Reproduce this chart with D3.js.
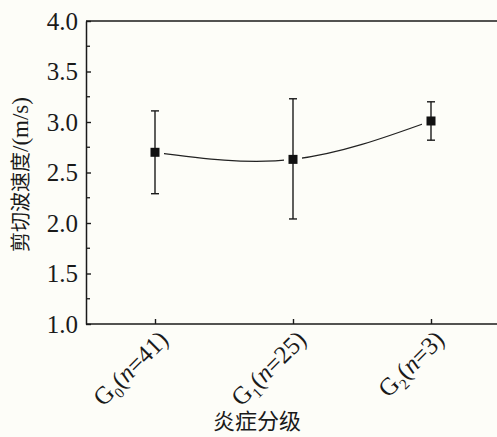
<!DOCTYPE html>
<html><head><meta charset="utf-8"><script src="https://cdn.jsdelivr.net/npm/d3@7"></script></head>
<body style="margin:0">
<script>
// chart data
var groups = ["G0", "G1", "G2"];
var subs = ["0", "1", "2"];
var counts = [41, 25, 3];
var means = [2.70, 2.63, 3.01];
var upper = [3.11, 3.23, 3.20];
var lower = [2.29, 2.04, 2.82];
var yTicks = [1.0, 1.5, 2.0, 2.5, 3.0, 3.5, 4.0];
var yMinor = [1.25, 1.75, 2.25, 2.75, 3.25, 3.75];

var width = 497, height = 437;
var bg = "#fdfdf8";
var serifFont = "'Liberation Serif'";
var cjkFont = "'Noto Sans CJK SC'";

var svg = d3.select("body").append("svg")
    .attr("width", width)
    .attr("height", height)
    .style("display", "block");

svg.append("rect")
    .attr("width", width)
    .attr("height", height)
    .attr("fill", bg);

var plotLeft = 86, plotTop = 21, plotBottom = 324;

var x = d3.scalePoint()
    .domain(groups)
    .range([plotLeft, 500])
    .padding(0.5);

var y = d3.scaleLinear()
    .domain([1, 4])
    .range([plotBottom, plotTop]);

var points = groups.map(function(g, i) {
    return {g: g, i: i, m: means[i], hi: upper[i], lo: lower[i]};
});

// smooth line through means
var line = d3.line()
    .x(function(d) { return x(d.g); })
    .y(function(d) { return y(d.m); })
    .curve(d3.curveNatural);

svg.append("path")
    .datum(points)
    .attr("d", line)
    .attr("fill", "none")
    .attr("stroke", "#222")
    .attr("stroke-width", 1.3);

// gaps around markers
svg.selectAll(".gap")
    .data(points)
    .enter().append("rect")
    .attr("x", function(d) { return x(d.g) - 9; })
    .attr("y", function(d) { return y(d.m) - 9; })
    .attr("width", 18)
    .attr("height", 18)
    .attr("fill", bg);

// error bars
var eb = svg.selectAll(".err")
    .data(points)
    .enter().append("g")
    .attr("stroke", "#1a1a1a")
    .attr("stroke-width", 1.4);
eb.append("line")
    .attr("x1", function(d) { return x(d.g); })
    .attr("x2", function(d) { return x(d.g); })
    .attr("y1", function(d) { return y(d.hi); })
    .attr("y2", function(d) { return y(d.lo); });
eb.append("line")
    .attr("x1", function(d) { return x(d.g) - 4; })
    .attr("x2", function(d) { return x(d.g) + 4; })
    .attr("y1", function(d) { return y(d.hi); })
    .attr("y2", function(d) { return y(d.hi); });
eb.append("line")
    .attr("x1", function(d) { return x(d.g) - 4; })
    .attr("x2", function(d) { return x(d.g) + 4; })
    .attr("y1", function(d) { return y(d.lo); })
    .attr("y2", function(d) { return y(d.lo); });

// markers
svg.selectAll(".marker")
    .data(points)
    .enter().append("rect")
    .attr("x", function(d) { return x(d.g) - 4.5; })
    .attr("y", function(d) { return y(d.m) - 4.5; })
    .attr("width", 9)
    .attr("height", 9)
    .attr("fill", "#111");

// frame: left axis, bottom axis, top border
var axisColor = "#1a1a1a";
svg.append("line")
    .attr("x1", plotLeft).attr("x2", width)
    .attr("y1", plotTop).attr("y2", plotTop)
    .attr("stroke", axisColor).attr("stroke-width", 1.5);

var yAxis = d3.axisLeft(y)
    .tickValues(yTicks)
    .tickSizeInner(-5)
    .tickSizeOuter(0)
    .tickPadding(8)
    .tickFormat(d3.format(".1f"));
var gy = svg.append("g")
    .attr("transform", "translate(" + plotLeft + ",0)")
    .call(yAxis);
gy.select(".domain").attr("stroke", axisColor).attr("stroke-width", 1.5);
gy.selectAll(".tick line").attr("stroke", axisColor).attr("stroke-width", 1.4);
gy.selectAll(".tick text")
    .style("font-family", serifFont)
    .style("font-size", "25px")
    .attr("fill", "#1a1a1a");

gy.selectAll(".minor")
    .data(yMinor)
    .enter().append("line")
    .attr("x1", 0).attr("x2", 4)
    .attr("y1", function(d) { return y(d); })
    .attr("y2", function(d) { return y(d); })
    .attr("stroke", axisColor).attr("stroke-width", 1.3);

var xAxis = d3.axisBottom(x)
    .tickSizeInner(-5)
    .tickSizeOuter(0)
    .tickFormat("");
var gx = svg.append("g")
    .attr("transform", "translate(0," + plotBottom + ")")
    .call(xAxis);
gx.select(".domain")
    .attr("d", "M" + plotLeft + ",0H" + width)
    .attr("stroke", axisColor).attr("stroke-width", 1.5);
gx.selectAll(".tick line").attr("stroke", axisColor).attr("stroke-width", 1.4);

// rotated category labels with subscript and italic n
gx.selectAll(".tick").each(function(d, i) {
    var t = d3.select(this).append("text")
        .attr("transform", "translate(8,11) rotate(-45)")
        .attr("text-anchor", "end")
        .attr("dy", "0.35em")
        .style("font-family", serifFont)
        .style("font-size", "25px")
        .attr("fill", "#1a1a1a");
    t.append("tspan").text("G");
    t.append("tspan").style("font-size", "15px").attr("dy", 6).text(subs[i]);
    t.append("tspan").attr("dy", -6).text("(");
    t.append("tspan").style("font-style", "italic").text("n");
    t.append("tspan").text("=" + counts[i] + ")");
});

// axis titles
var yt = svg.append("text")
    .attr("transform", "translate(28," + ((plotTop + plotBottom) / 2 + 2) + ") rotate(-90)")
    .attr("text-anchor", "middle")
    .attr("fill", "#1a1a1a");
yt.append("tspan").style("font-family", cjkFont).style("font-size", "20px").text("剪切波速度");
yt.append("tspan").style("font-family", serifFont).style("font-size", "23px").text("/(m/s)");

svg.append("text")
    .attr("x", 257)
    .attr("y", 429)
    .attr("text-anchor", "middle")
    .style("font-family", cjkFont)
    .style("font-size", "22px")
    .attr("fill", "#1a1a1a")
    .text("炎症分级");
</script>
</body>
</html>
